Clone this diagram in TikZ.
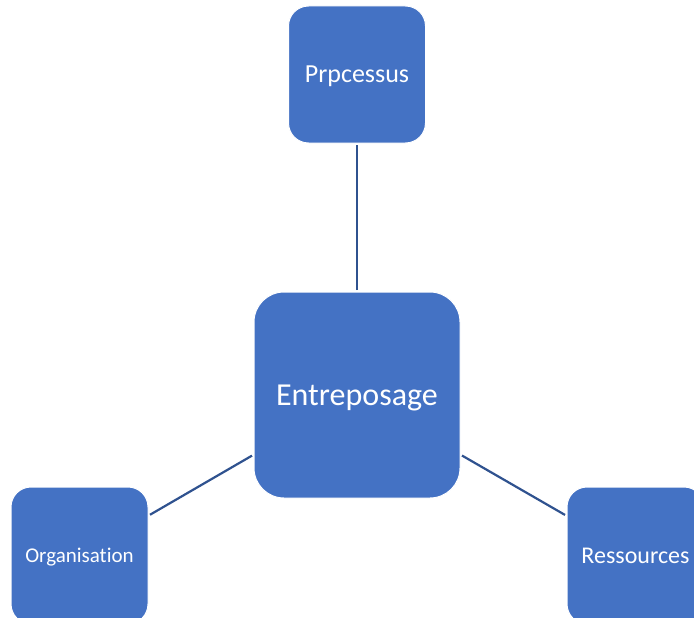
\documentclass[tikz,border=0pt]{standalone}
\usepackage{fontspec}
\setmainfont[Ligatures={NoCommon,NoContextual,NoRare}]{Carlito}
\definecolor{boxblue}{HTML}{4472C4}
\definecolor{lineblue}{HTML}{2F528F}
\begin{document}
\begin{tikzpicture}[x=1pt,y=-1pt,
    bloc/.style={draw=white, line width=1pt, fill=boxblue, text=white,
        rounded corners=20pt, minimum width=137pt, minimum height=137pt,
        inner sep=0pt, outer sep=2pt, text depth=0pt},
    lien/.style={draw=lineblue, line width=2.2pt}]
    \useasboundingbox (0,0) rectangle (694,618);
    % Central block
    \node[bloc, minimum width=206pt, minimum height=206pt, rounded corners=30pt,
        font=\fontsize{32}{36}\selectfont] (entreposage) at (357,395) {Entreposage};
    % Outer blocks
    \node[bloc, font=\fontsize{26}{30}\selectfont] (processus) at (357,74.5) {Prpcessus};
    \node[bloc, font=\fontsize{21}{25}\selectfont] (organisation) at (79.5,555.5) {Organisation};
    \node[bloc, font=\fontsize{24}{28}\selectfont] (ressources) at (635.5,555.5) {Ressources};
    % Links
    \draw[lien] (entreposage) -- (processus);
    \draw[lien] (entreposage) -- (organisation);
    \draw[lien] (entreposage) -- (ressources);
\end{tikzpicture}
\end{document}
